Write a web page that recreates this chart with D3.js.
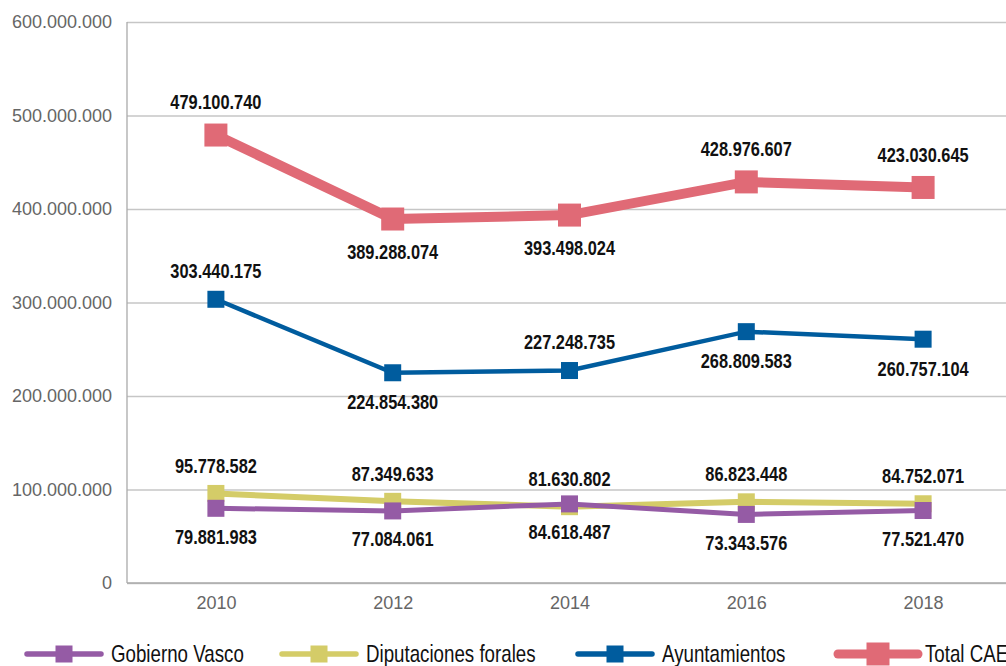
<!DOCTYPE html>
<html>
<head>
<meta charset="utf-8">
<script src="https://cdn.jsdelivr.net/npm/d3@7"></script>
<style>
  body { margin: 0; background: #fff; }
  .chart svg { display: block; }
  .axis text { font-family: "Liberation Sans", Arial, sans-serif; font-size: 18px; fill: #666; }
  .label { font-family: "Liberation Sans", Arial, sans-serif; font-size: 21px; font-weight: bold; fill: #111; }
  .legend text { font-family: "Liberation Sans", Arial, sans-serif; font-size: 24px; fill: #111; }
</style>
</head>
<body>
<div class="chart"></div>
<script>
const years = ['2010', '2012', '2014', '2016', '2018']
const yTicks = [0, 100000000, 200000000, 300000000, 400000000, 500000000, 600000000]

const seriesNames = ['Gobierno Vasco', 'Diputaciones forales', 'Ayuntamientos', 'Total CAE']
const gobiernoVasco = [79881983, 77084061, 84618487, 73343576, 77521470]
const diputaciones = [95778582, 87349633, 81630802, 86823448, 84752071]
const ayuntamientos = [303440175, 224854380, 227248735, 268809583, 260757104]
const totalCAE = [479100740, 389288074, 393498024, 428976607, 423030645]

// where each value label sits: 1 = above the point, -1 = below
const totalLabelPos = [1, -1, -1, 1, 1]
const ayuntLabelPos = [1, -1, 1, -1, -1]

const width = 1006
const height = 666
const margin = {top: 22, left: 127, bottom: 83}
const narrow = 0.78   // condensed look, no narrow font installed

const series = [
  {name: seriesNames[0], values: gobiernoVasco, color: '#955ba5', lw: 5, ms: 17, pos: years.map(() => -1), off: 28},
  {name: seriesNames[1], values: diputaciones, color: '#d4cc68', lw: 6, ms: 17, pos: years.map(() => 1), off: 28},
  {name: seriesNames[2], values: ayuntamientos, color: '#005c9e', lw: 4.5, ms: 17, pos: ayuntLabelPos, off: 29},
  {name: seriesNames[3], values: totalCAE, color: '#e06a76', lw: 10, ms: 23, pos: totalLabelPos, off: 33}
]

const fmt = d3.formatLocale({decimal: ',', thousands: '.', grouping: [3]}).format(',d')

const svg = d3.select('.chart').append('svg')
  .attr('width', width)
  .attr('height', height)

const xScale = d3.scalePoint().domain(years).range([127.5, 1011.5]).padding(0.5)
const yScale = d3.scaleLinear().domain([0, 600000000]).range([height - margin.bottom, margin.top])

// gridlines + y axis
svg.append('g')
  .attr('class', 'y axis')
  .attr('transform', 'translate(' + margin.left + ',0)')
  .call(d3.axisLeft(yScale).tickValues(yTicks).tickFormat(fmt).tickSize(-(width - margin.left)).tickPadding(15))
  .call(g => g.select('.domain').remove())
  .call(g => g.selectAll('.tick line').attr('stroke', '#c6c6c6').attr('stroke-width', 1.3))

svg.append('line')
  .attr('x1', margin.left).attr('x2', margin.left)
  .attr('y1', yScale(600000000)).attr('y2', yScale(0))
  .attr('stroke', '#aaa').attr('stroke-width', 1.3)

svg.append('line')
  .attr('x1', margin.left).attr('x2', width)
  .attr('y1', yScale(0)).attr('y2', yScale(0))
  .attr('stroke', '#aaa').attr('stroke-width', 1.3)

svg.append('g')
  .attr('class', 'x axis')
  .attr('transform', 'translate(0,' + yScale(0) + ')')
  .call(d3.axisBottom(xScale).tickSize(0).tickPadding(13))
  .call(g => g.select('.domain').remove())

const line = d3.line()
  .x((d, i) => xScale(years[i]))
  .y(d => yScale(d))

const drawOrder = [3, 2, 1, 0]

drawOrder.forEach(k => {
  const s = series[k]
  const g = svg.append('g')
  g.append('path')
    .datum(s.values)
    .attr('d', line)
    .attr('fill', 'none')
    .attr('stroke', s.color)
    .attr('stroke-width', s.lw)
  g.selectAll('rect')
    .data(s.values)
    .join('rect')
    .attr('x', (d, i) => xScale(years[i]) - s.ms / 2)
    .attr('y', d => yScale(d) - s.ms / 2)
    .attr('width', s.ms)
    .attr('height', s.ms)
    .attr('fill', s.color)
})

series.forEach(s => {
  svg.append('g').selectAll('text')
    .data(s.values)
    .join('text')
    .attr('class', 'label')
    .attr('transform', (d, i) => 'translate(' + xScale(years[i]) + ',' + (yScale(d) - s.pos[i] * s.off) + ') scale(' + narrow + ',1)')
    .attr('dy', '0.35em')
    .attr('text-anchor', 'middle')
    .text(d => fmt(d))
})

// legend
const legendX = [27, 282, 578, 838]
const legendY = 654
const legend = svg.append('g').attr('class', 'legend')

series.forEach((s, i) => {
  const lg = legend.append('g').attr('transform', 'translate(' + legendX[i] + ',' + legendY + ')')
  const len = i === 3 ? 80 : 74
  lg.append('line')
    .attr('x1', 0).attr('x2', len)
    .attr('stroke', s.color)
    .attr('stroke-width', i === 3 ? 9 : 5.5)
    .attr('stroke-linecap', 'round')
  lg.append('rect')
    .attr('x', len / 2 - s.ms / 2)
    .attr('y', -s.ms / 2)
    .attr('width', s.ms)
    .attr('height', s.ms)
    .attr('fill', s.color)
  lg.append('text')
    .attr('transform', 'translate(' + (len + (i === 3 ? 7 : 10)) + ',0) scale(' + narrow + ',1)')
    .attr('dy', '0.35em')
    .text(s.name)
})
</script>
</body>
</html>
